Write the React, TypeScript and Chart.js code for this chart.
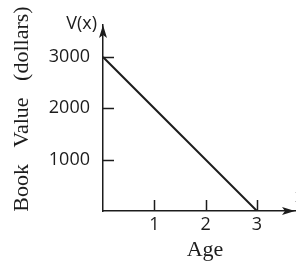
import React, { useEffect, useRef } from "react";
import { Chart, registerables } from "chart.js";

Chart.register(...registerables);

const ages = [0, 3];
const bookValues = [3000, 0];
const xTicks = [1, 2, 3];
const yTicks = [1000, 2000, 3000];
const xMax = 3.76;
const yMax = 3623;
const yAxisLabel = "Book   Value   (dollars)";
const xAxisLabel = "Age";
const yVarLabel = "V(x)";
const xVarLabel = "x";

const INK = "#1c1c1c";
const SANS = "'Open Sans', sans-serif";
const SERIF = "'Liberation Serif', serif";

const axesPlugin = {
  id: "axesDecor",
  afterDraw(chart: any) {
    const { ctx, chartArea, scales } = chart;
    const xs = scales.x;
    const ys = scales.y;
    const x0 = xs.getPixelForValue(0);
    const y0 = ys.getPixelForValue(0);
    ctx.save();
    ctx.strokeStyle = INK;
    ctx.fillStyle = INK;
    ctx.lineWidth = 1.5;
    // inward tick marks
    ctx.beginPath();
    for (const v of yTicks) {
      const py = Math.round(ys.getPixelForValue(v)) + 0.5;
      ctx.moveTo(x0, py);
      ctx.lineTo(x0 + 11, py);
    }
    for (const v of xTicks) {
      const px = Math.round(xs.getPixelForValue(v)) + 0.5;
      ctx.moveTo(px, y0);
      ctx.lineTo(px, y0 - 11);
    }
    ctx.stroke();
    // arrowheads
    const top = chartArea.top;
    ctx.beginPath();
    ctx.moveTo(x0, top);
    ctx.lineTo(x0 - 4, top + 13);
    ctx.lineTo(x0, top + 10);
    ctx.lineTo(x0 + 4, top + 13);
    ctx.closePath();
    ctx.fill();
    const right = chartArea.right - 1;
    ctx.beginPath();
    ctx.moveTo(right, y0);
    ctx.lineTo(right - 13, y0 - 4);
    ctx.lineTo(right - 10, y0);
    ctx.lineTo(right - 13, y0 + 4);
    ctx.closePath();
    ctx.fill();
    // variable labels
    ctx.font = `18px ${SANS}`;
    ctx.textAlign = "right";
    ctx.textBaseline = "middle";
    ctx.fillText(yVarLabel, x0 - 6, top - 1);
    ctx.textAlign = "left";
    ctx.fillText(xVarLabel, chartArea.right - 1, y0 - 14);
    // axis titles
    ctx.font = `22px ${SERIF}`;
    ctx.textAlign = "center";
    ctx.textBaseline = "middle";
    ctx.fillText(xAxisLabel, 205, 250);
    ctx.translate(22, 109);
    ctx.rotate(-Math.PI / 2);
    ctx.fillText(yAxisLabel, 0, 0);
    ctx.restore();
  },
};

export default function App() {
  const ref = useRef<HTMLCanvasElement>(null);
  useEffect(() => {
    if (!ref.current) return;
    const chart = new Chart(ref.current, {
      type: "line",
      data: {
        datasets: [
          {
            data: ages.map((a, i) => ({ x: a, y: bookValues[i] })),
            borderColor: INK,
            borderWidth: 2,
            pointRadius: 0,
            fill: false,
          },
        ],
      },
      options: {
        animation: false,
        responsive: false,
        devicePixelRatio: 1,
        layout: { padding: { top: 25, left: 0, right: 0, bottom: 0 } },
        plugins: { legend: { display: false }, tooltip: { enabled: false } },
        scales: {
          x: {
            type: "linear",
            min: 0,
            max: xMax,
            grid: { display: false },
            border: { display: true, color: INK, width: 1.5 },
            afterBuildTicks: (s: any) => {
              s.ticks = xTicks.map((v) => ({ value: v }));
            },
            afterFit: (s: any) => {
              s.height = 52;
            },
            ticks: {
              color: INK,
              font: { family: SANS, size: 18 },
              padding: -5,
              maxRotation: 0,
              callback: (v: any) => String(v),
            },
          },
          y: {
            type: "linear",
            min: 0,
            max: yMax,
            grid: { display: false },
            border: { display: true, color: INK, width: 1.5 },
            afterBuildTicks: (s: any) => {
              s.ticks = yTicks.map((v) => ({ value: v }));
            },
            afterFit: (s: any) => {
              s.width = 103;
            },
            ticks: {
              color: INK,
              font: { family: SANS, size: 18 },
              padding: 5,
              callback: (v: any) => String(v),
            },
          },
        },
      },
      plugins: [axesPlugin],
    });
    return () => chart.destroy();
  }, []);
  return (
    <div style={{ position: "fixed", left: 0, top: 0, width: 296, height: 263, background: "#fff" }}>
      <canvas ref={ref} width={296} height={263} />
    </div>
  );
}
